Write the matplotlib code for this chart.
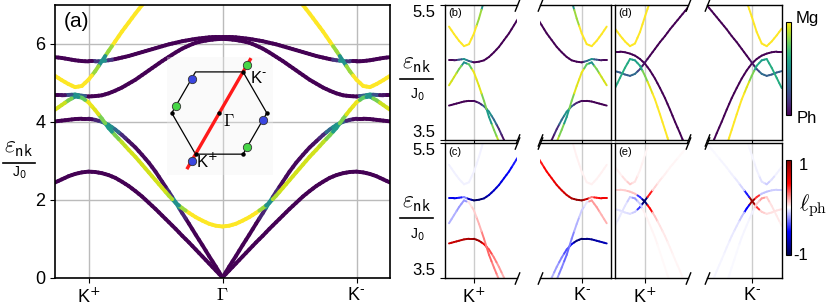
import numpy as np
import matplotlib
matplotlib.use('Agg')
import matplotlib.pyplot as plt
from matplotlib.collections import LineCollection
from matplotlib.lines import Line2D
from matplotlib.cm import ScalarMappable
from matplotlib.colors import Normalize

plt.rcParams['font.family'] = ['Liberation Sans', 'DejaVu Sans']

# ---------------- data: panel (a)/(b)/(c), half path Gamma -> K -> beyond ----------------
k_path = [0.00, 0.05, 0.10, 0.15, 0.20, 0.25, 0.30, 0.35, 0.40, 0.45, 0.50, 0.55, 0.60,
          0.65, 0.70, 0.75, 0.80, 0.85, 0.90, 0.95, 1.00, 1.05, 1.10, 1.15, 1.20, 1.25]
ph_TA = [0.00, 0.18, 0.36, 0.54, 0.72, 0.90, 1.07, 1.25, 1.42, 1.59, 1.76, 1.92, 2.08,
         2.22, 2.35, 2.46, 2.56, 2.63, 2.68, 2.71, 2.72, 2.70, 2.66, 2.60, 2.52, 2.44]
ph_LA = [0.00, 0.28, 0.55, 0.83, 1.10, 1.38, 1.65, 1.93, 2.20, 2.46, 2.72, 2.95, 3.15,
         3.34, 3.50, 3.66, 3.80, 3.92, 4.00, 4.05, 4.08, 4.08, 4.07, 4.05, 4.03, 4.01]
mg_low = [1.31, 1.33, 1.38, 1.46, 1.55, 1.66, 1.78, 1.92, 2.10, 2.30, 2.50, 2.70, 2.90,
          3.10, 3.28, 3.47, 3.65, 3.84, 4.08, 4.30, 4.50, 4.62, 4.65, 4.55, 4.43, 4.31]
ph_opt1 = [6.13, 6.12, 6.10, 6.07, 6.03, 5.96, 5.88, 5.78, 5.67, 5.56, 5.44, 5.32, 5.20,
           5.08, 4.98, 4.88, 4.80, 4.73, 4.68, 4.66, 4.65, 4.67, 4.70, 4.69, 4.68, 4.68]
ph_opt2 = [6.18, 6.18, 6.17, 6.15, 6.13, 6.10, 6.07, 6.03, 5.99, 5.94, 5.89, 5.84, 5.79,
           5.74, 5.69, 5.65, 5.61, 5.58, 5.56, 5.55, 5.55, 5.56, 5.58, 5.61, 5.64, 5.66]
mg_high = [8.39, 8.38, 8.35, 8.30, 8.23, 8.14, 8.03, 7.90, 7.75, 7.58, 7.40, 7.20, 7.00,
           6.78, 6.55, 6.32, 6.07, 5.82, 5.56, 5.30, 5.08, 4.92, 4.89, 4.97, 5.07, 5.18]

# magnon weight (0 = phonon, 1 = magnon)
w_TA = [0.0] * 26
w_LA = [0, 0, 0, 0, 0, 0, 0.1, 0.5, 0.12, 0.03, 0.02, 0.02, 0.02,
        0.02, 0.04, 0.12, 0.35, 0.5, 0.3, 0.1, 0.02, 0, 0, 0, 0, 0]
w_mg_low = [1, 1, 1, 1, 1, 1, 0.85, 0.5, 0.88, 0.93, 0.93, 0.93, 0.93,
            0.93, 0.93, 0.9, 0.8, 0.55, 0.8, 0.95, 0.97, 0.75, 0.5, 0.8, 0.92, 0.94]
w_opt1 = [0] * 21 + [0.3, 0.5, 0.25, 0.05, 0]
w_opt2 = [0] * 17 + [0.15, 0.5, 0.15] + [0] * 6
w_mg_high = [1] * 17 + [0.85, 0.5, 0.85] + [1] * 6

# phonon angular momentum near K+ (panel c)
l_TA = [0.0] * 26
l_LA = [0] * 12 + [0.05, 0.1, 0.15, 0.2, 0.25, 0.35, 0.55, 0.85, 0.92, 0.85, 0.8, 0.75, 0.72, 0.7]
l_mg_low = [0] * 12 + [0.05, 0.1, 0.15, 0.2, 0.25, 0.3, 0.25, 0.15, 0.1, 0.05, -0.2, -0.2, -0.15, -0.15]
l_opt1 = [0] * 11 + [-0.4, -0.45, -0.5, -0.55, -0.6, -0.65, -0.7, -0.8, -0.9, -0.95,
                     -0.7, -0.25, -0.45, -0.55, -0.55]
l_opt2 = [0.0] * 26
l_mg_high = [0] * 16 + [-0.03] * 10

# ---------------- data: panels (d)/(e), q = distance from K towards Gamma ----------------
q_d = [-0.30, -0.25, -0.20, -0.15, -0.10, -0.05, 0.00, 0.05, 0.10, 0.15, 0.20, 0.25,
       0.30, 0.35, 0.40, 0.45]
d_phA = [4.81, 4.81, 4.80, 4.78, 4.75, 4.70, 4.63, 4.53, 4.41, 4.27, 4.12, 3.95, 3.77, 3.60, 3.42, 3.25]
d_phB = [4.52, 4.50, 4.47, 4.45, 4.48, 4.55, 4.65, 4.75, 4.85, 4.95, 5.04, 5.14, 5.23, 5.32, 5.41, 5.50]
d_mg_low = [4.27, 4.42, 4.57, 4.70, 4.68, 4.60, 4.45, 4.28, 4.10, 3.88, 3.65, 3.42, 3.20, 3.00, 2.80, 2.60]
d_mg_high = [5.15, 5.05, 4.96, 4.89, 4.93, 5.10, 5.33, 5.55, 5.75, 5.95, 6.15, 6.35, 6.55, 6.75, 6.95, 7.15]
wd_phA = [0.0] * 16
wd_phB = [0.3, 0.3, 0.3, 0.3, 0.35, 0.2, 0.05, 0, 0, 0, 0, 0, 0, 0, 0, 0]
wd_mg_low = [0.6, 0.62, 0.62, 0.6, 0.55, 0.6, 0.8, 0.95, 1, 1, 1, 1, 1, 1, 1, 1]
wd_mg_high = [1.0] * 16
ld_phA = [0.1, 0.1, 0.1, 0.12, 0.12, -0.4, -0.9, 0.5, 0.12, 0.06, 0.04, 0.03, 0.02, 0.02, 0.01, 0.01]
ld_phB = [-0.06, -0.06, -0.06, -0.07, -0.1, -0.4, -0.9, 0.45, 0.08, 0.04, 0.03, 0.02,
          0.02, 0.01, 0.01, 0.01]
ld_mg_low = [-0.03, -0.04, -0.06, -0.1, -0.2, -0.1, 0.03, 0.02, 0.02, 0.01, 0.01, 0.01, 0.01, 0.01, 0.01, 0.01]
ld_mg_high = [0.02, 0.03, 0.06, 0.1, 0.06, 0.03, 0.02, 0.01, 0.01, 0.01, 0.01, 0.01, 0.01, 0.01, 0.01, 0.01]

xtick_labels = ['K$^{+}$', r'$\Gamma$', 'K$^{\u2010}$']
ytick_main = [0, 2, 4, 6]
ytick_zoom = [3.5, 5.5]

# ---------------- helpers ----------------
W, H = 831, 306
fig = plt.figure(figsize=(W / 100, H / 100), dpi=100)


def rect(x0, y0, x1, y1):
    return [x0 / W, 1 - y1 / H, (x1 - x0) / W, (y1 - y0) / H]


def fx(x):
    return x / W


def fy(y):
    return 1 - y / H


def colored_line(ax, x, y, c, cmap, norm, lw, z=2):
    x = np.asarray(x, float); y = np.asarray(y, float); c = np.asarray(c, float)
    segs, cols = [], []
    for i in range(len(x) - 1):
        mx, my = 0.5 * (x[i] + x[i + 1]), 0.5 * (y[i] + y[i + 1])
        segs.append([(x[i], y[i]), (mx, my)]); cols.append(c[i])
        segs.append([(mx, my), (x[i + 1], y[i + 1])]); cols.append(c[i + 1])
    lc = LineCollection(segs, cmap=cmap, norm=norm, linewidths=lw, capstyle='round', zorder=z)
    lc.set_array(np.array(cols))
    ax.add_collection(lc)


vir = plt.get_cmap('viridis')
sei = plt.get_cmap('seismic')
n01 = Normalize(0, 1)
n11 = Normalize(-1, 1)

bands_a = [(ph_TA, w_TA, l_TA), (ph_LA, w_LA, l_LA), (ph_opt1, w_opt1, l_opt1),
           (ph_opt2, w_opt2, l_opt2), (mg_low, w_mg_low, l_mg_low), (mg_high, w_mg_high, l_mg_high)]
bands_d = [(d_phA, wd_phA, ld_phA), (d_phB, wd_phB, ld_phB),
           (d_mg_low, wd_mg_low, ld_mg_low), (d_mg_high, wd_mg_high, ld_mg_high)]

# ---------------- panel (a) ----------------
ax = fig.add_axes(rect(55, 5, 390, 277.5))
kk = np.array(k_path)
for E, w, l in bands_a:
    colored_line(ax, -kk, E, w, vir, n01, 2.8)
    colored_line(ax, kk, E, w, vir, n01, 2.8)
ax.set_xlim(-1.25, 1.25)
ax.set_ylim(0, 7)
ax.set_xticks([-1, 0, 1])
ax.set_xticklabels(xtick_labels, fontsize=13)
ax.get_xticklabels()[1].set_math_fontfamily('cm')
ax.set_yticks(ytick_main)
ax.set_yticklabels([str(v) for v in ytick_main], fontsize=13)
ax.grid(True, color='#bbbbbb', lw=1)
ax.set_axisbelow(True)
for s in ax.spines.values():
    s.set_linewidth(1.2)
ax.text(0.025, 0.975, '(a)', transform=ax.transAxes, fontsize=15, va='top', ha='left')

# inset Brillouin zone
axi = fig.add_axes(rect(167, 57, 273, 175))
axi.set_facecolor((0.94, 0.94, 0.94, 0.3))
for s in axi.spines.values():
    s.set_visible(False)
axi.set_xticks([]); axi.set_yticks([])
axi.set_xlim(-1.10, 1.13); axi.set_ylim(-1.305, 1.18)
ang = np.deg2rad(np.arange(0, 420, 60))
axi.plot(np.cos(ang), np.sin(ang), color='k', lw=0.9, zorder=2)
d = np.array([0.5, np.sqrt(3) / 2])
axi.plot([-1.33 * d[0], 1.30 * d[0]], [-1.33 * d[1], 1.30 * d[1]], color='#ff1a1a', lw=2.4, zorder=3)
vx = [1, 0.5, -1, -0.5, 0.5, 0]
vy = [0, np.sqrt(3) / 2, 0, -np.sqrt(3) / 2, -np.sqrt(3) / 2, 0]
axi.plot(vx, vy, 'o', color='k', ms=2.2, zorder=4)
delta = np.array([-0.084, -0.147])
Kp = [(-0.5, -np.sqrt(3) / 2), (-0.5, np.sqrt(3) / 2), (1, 0)]
Km = [(0.5, np.sqrt(3) / 2), (-1, 0), (0.5, -np.sqrt(3) / 2)]
for p in Kp:
    axi.plot(p[0] + delta[0], p[1] + delta[1], 'o', ms=6, mfc='#3a46e0', mec='#333333', mew=0.6, zorder=5)
for p in Km:
    axi.plot(p[0] - delta[0], p[1] - delta[1], 'o', ms=6, mfc='#46d646', mec='#333333', mew=0.6, zorder=5)
axi.text(0.65, 0.74, 'K$^{\u2010}$', fontsize=12, va='center', ha='left')
axi.text(-0.49, -1.02, 'K$^{+}$', fontsize=12, va='center', ha='left')
axi.text(0.08, -0.17, r'$\Gamma$', fontsize=12, va='center', ha='left', math_fontfamily='cm')


# y labels
def frac_label(xc, ybar, x0, x1, size_top, size_bot, dy_top, dy_bot):
    fig.text(fx(xc), fy(ybar - dy_top), r'$\varepsilon_{\mathsf{nk}}$', fontsize=size_top,
             ha='center', va='center', math_fontfamily='cm')
    fig.add_artist(Line2D([fx(x0), fx(x1)], [fy(ybar), fy(ybar)], color='k', lw=1.2))
    fig.text(fx(xc), fy(ybar + dy_bot), 'J$_0$', fontsize=size_bot, ha='center', va='center')


frac_label(19, 162.7, 3, 35, 17, 10, 15, 10)
frac_label(417, 79, 400, 433, 17, 10, 15, 16)
frac_label(417, 218.3, 400, 433, 17, 10, 15, 16)


# ---------------- zoom panels ----------------
def break_marks(ax, side):
    kw = dict(marker=[(-1, -2.5), (1, 2.5)], markersize=9, linestyle='none', color='k',
              mec='k', mew=1, clip_on=False, transform=ax.transAxes)
    xs = 1 if side == 'right' else 0
    ax.plot([xs, xs], [0, 1], **kw)


def zoom_pair(xl, xr, y0, y1, bands, xvals, mode, label, ylabels, xlabels, lims_l, lims_r):
    axl = fig.add_axes(rect(xl[0], y0, xl[1], y1))
    axr = fig.add_axes(rect(xr[0], y0, xr[1], y1))
    xv = np.asarray(xvals, float)
    for E, w, l in bands:
        if mode == 'w':
            colored_line(axl, xv, E, w, vir, n01, 1.4)
            colored_line(axr, -xv, E, w, vir, n01, 1.4)
        else:
            colored_line(axl, xv, E, l, sei, n11, 1.4)
            colored_line(axr, -xv, E, -np.asarray(l, float), sei, n11, 1.4)
    axl.set_xlim(*lims_l); axr.set_xlim(*lims_r)
    for a, kpos in ((axl, -1), (axr, 1)):
        a.set_ylim(3.5, 5.5)
        a.set_xticks([kpos])
        a.grid(True, axis='x', color='#cccccc', lw=1)
        a.set_axisbelow(True)
        for s in a.spines.values():
            s.set_linewidth(1.0)
        a.tick_params(labelsize=12)
    axl.spines['right'].set_visible(False)
    axr.spines['left'].set_visible(False)
    axr.set_yticks([])
    axl.set_yticks(ytick_zoom)
    if ylabels:
        axl.set_yticklabels(['3.5', '5.5'], fontsize=12)
        tl = axl.get_yticklabels()
        tl[0].set_va('bottom'); tl[1].set_va('top')
    else:
        axl.set_yticklabels([])
    if xlabels:
        axl.set_xticklabels([xtick_labels[0]], fontsize=13)
        axr.set_xticklabels([xtick_labels[2]], fontsize=13)
    else:
        axl.set_xticklabels([]); axr.set_xticklabels([])
    break_marks(axl, 'right')
    break_marks(axr, 'left')
    axl.text(0.04, 0.975, label, transform=axl.transAxes, fontsize=8, va='top', ha='left')
    return axl, axr


# (b),(c): zoom of panel (a) data, plotted in path coordinate (x = -k left, +k right)
kx = -kk
zoom_pair((445, 516.7), (540, 610.7), 5, 140, bands_a, kx, 'w', '(b)', True, False,
          (-1.29, -0.573), (0.583, 1.29))
zoom_pair((445, 516.7), (540, 610.7), 143.3, 277.7, bands_a, kx, 'l', '(c)', True, True,
          (-1.29, -0.573), (0.583, 1.29))
qx = np.array(q_d) - 1.0
zoom_pair((615, 688.3), (706.7, 781.7), 5, 140, bands_d, qx, 'w', '(d)', False, False,
          (-1.30, -0.567), (0.55, 1.30))
zoom_pair((615, 688.3), (706.7, 781.7), 143.3, 277.7, bands_d, qx, 'l', '(e)', False, True,
          (-1.30, -0.567), (0.55, 1.30))

# ---------------- colorbars ----------------
cax1 = fig.add_axes(rect(785.7, 21.7, 790.7, 115))
cb1 = fig.colorbar(ScalarMappable(norm=n01, cmap=vir), cax=cax1)
cb1.set_ticks([]); cb1.outline.set_linewidth(0.8)
cax2 = fig.add_axes(rect(785.7, 160, 790.7, 255))
cb2 = fig.colorbar(ScalarMappable(norm=n11, cmap=sei), cax=cax2)
cb2.set_ticks([]); cb2.outline.set_linewidth(0.8)
fig.text(fx(807), fy(19), 'Mg', fontsize=12, ha='center', va='center')
fig.text(fx(807), fy(119), 'Ph', fontsize=12, ha='center', va='center')
fig.text(fx(803), fy(165), '1', fontsize=12, ha='center', va='center')
fig.text(fx(801), fy(255), '-1', fontsize=12, ha='center', va='center')
fig.text(fx(813), fy(206), r'$\ell_{\rm ph}$', fontsize=16, ha='center', va='center',
         math_fontfamily='cm')

fig.savefig('out.png', dpi=100)
